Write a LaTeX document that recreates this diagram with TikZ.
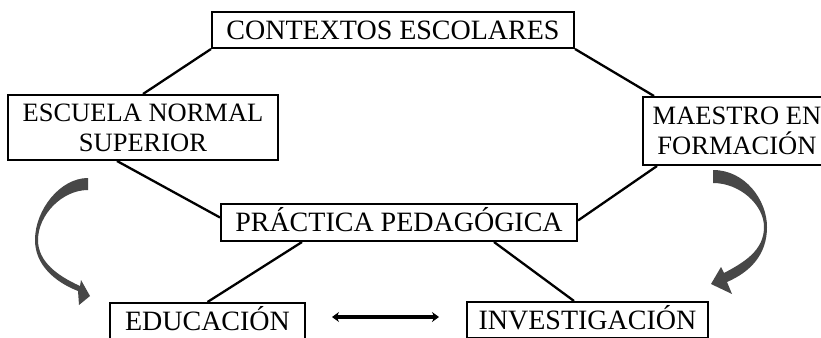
\documentclass[tikz,border=0pt]{standalone}
\usepackage{fontspec}
\setmainfont{Liberation Serif}
\usetikzlibrary{arrows.meta}
\begin{document}
\begin{tikzpicture}[x=1pt,y=-1pt,
  box/.style={draw, line width=2pt, inner sep=0pt, font=\fontsize{28}{30}\selectfont, text height=18.5pt, text depth=0pt},
  boxtwo/.style={draw, line width=2pt, inner sep=0pt, align=center, font=\fontsize{26.5}{30}\selectfont},
  link/.style={line width=2.3pt},
  bendarrow/.style={fill=black!72, draw=none},
  dbl/.style={line width=4pt, {Stealth[length=7pt,width=10pt]}-{Stealth[length=7pt,width=10pt]}}]
\clip (0,0) rectangle (821,337);
\fill[white] (0,0) rectangle (821,337);
\node[box, minimum width=362pt, minimum height=36pt] (ctx) at (393,30) {CONTEXTOS ESCOLARES};
\node[boxtwo, minimum width=270pt, minimum height=65pt] (esc) at (143,127.5) {ESCUELA NORMAL\\SUPERIOR};
\node[boxtwo, minimum width=188pt, minimum height=68pt] (mae) at (737,131) {MAESTRO EN\\FORMACIÓN};
\node[box, minimum width=356pt, minimum height=37pt] (prac) at (399,222.5) {PRÁCTICA PEDAGÓGICA};
\node[box, minimum width=195pt, minimum height=36pt] (edu) at (207.5,321) {EDUCACIÓN};
\node[box, minimum width=241pt, minimum height=36pt] (inv) at (587.5,320) {INVESTIGACIÓN};
\draw[link] (ctx.south west) -- (esc.north);
\draw[link] (ctx.south east) -- ([xshift=12pt]mae.north west);
\draw[link] ([xshift=-26pt]esc.south) -- ([yshift=5pt]prac.west);
\draw[link] ([yshift=2pt]prac.east) -- ([xshift=15pt]mae.south west);
\draw[link] ([xshift=82pt]prac.south west) -- (edu.north);
\draw[link] ([xshift=-84pt]prac.south east) -- ([xshift=108pt]inv.north west);
\coordinate (da) at (332,317);
\coordinate (db) at (439,317);
\draw[dbl] (da) -- (db);
\fill[bendarrow] (88,178) .. controls (60,178) and (35,210) .. (35,240)
  .. controls (35,265) and (55,282) .. (78,291) -- (79,305) -- (90,296) -- (81,280) -- (80,286)
  .. controls (58,276) and (38,262) .. (38,240)
  .. controls (38,215) and (62,190) .. (88,190) -- cycle;
\fill[bendarrow] (713,170) .. controls (745,170) and (767,200) .. (767,227)
  .. controls (767,255) and (750,272) .. (727,282) -- (732,294) -- (711,284) -- (721,267) -- (724,273)
  .. controls (745,262) and (764,250) .. (764,227)
  .. controls (764,205) and (740,183) .. (713,183) -- cycle;
\end{tikzpicture}
\end{document}
